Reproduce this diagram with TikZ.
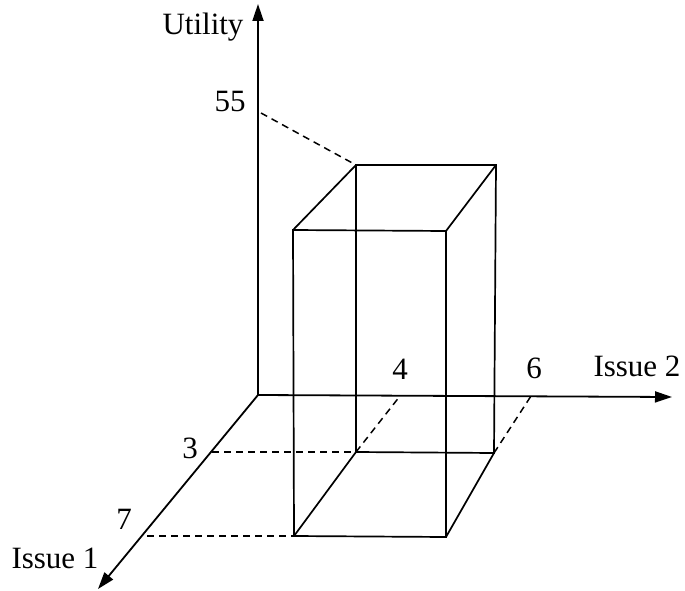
\documentclass[tikz,border=0pt]{standalone}
\usepackage{fontspec}
\setmainfont{Liberation Serif}
\usetikzlibrary{arrows.meta, positioning}

\begin{document}
\begin{tikzpicture}[
    x=1pt, y=-1pt,
    axis/.style={
        -{Triangle[length=17pt,width=11pt]},
        line width=1.8pt
    },
    edge/.style={
        line width=1.7pt
    },
    guide/.style={
        line width=1.5pt,
        dash pattern=on 7pt off 5pt
    },
    lbl/.style={
        font=\fontsize{31}{34}\selectfont,
        inner sep=0pt,
        anchor=base
    }
]
\useasboundingbox (0,0) rectangle (685,591);

% Axes
\coordinate (o)     at (258,395);
\coordinate (ytip)  at (258,4);
\coordinate (x2tip) at (672,397);
\coordinate (x1tip) at (98,589);

\draw[axis] (o) -- (ytip);
\draw[axis] (o) -- (x2tip);
\draw[axis] (o) -- (x1tip);

% Box corners (front face, back face)
\coordinate (ftl) at (293,230);
\coordinate (ftr) at (446,231);
\coordinate (fbl) at (294,536);
\coordinate (fbr) at (446,537);
\coordinate (btl) at (356,165);
\coordinate (btr) at (496,165);
\coordinate (bbl) at (356,452);
\coordinate (bbr) at (494,453);

% Box
\draw[edge] (ftl) -- (ftr) -- (fbr) -- (fbl) -- cycle;
\draw[edge] (btl) -- (btr) -- (bbr) -- (bbl) -- cycle;
\draw[edge] (ftl) -- (btl);
\draw[edge] (ftr) -- (btr);
\draw[edge] (fbl) -- (bbl);
\draw[edge] (fbr) -- (bbr);

% Labels
\node[lbl] (utl)  at (203,35)  {Utility};
\node[lbl] (i2l)  at (637,376) {Issue 2};
\node[lbl] (i1l)  at (55,568)  {Issue 1};
\node[lbl] (v55)  at (230,112) {55};
\node[lbl] (v3)   at (190,458) {3};
\node[lbl] (v7)   at (124,529) {7};
\node[lbl] (v4)   at (400,379) {4};
\node[lbl] (v6)   at (534,378) {6};

% Guide lines
\coordinate (u55) at (261,113);
\coordinate (i3)  at (212,452);
\coordinate (i7)  at (147,536);
\coordinate (j4)  at (400,396);
\coordinate (j6)  at (531,396);

\draw[guide] (u55) -- (btl);
\draw[guide] (i3)  -- (bbl);
\draw[guide] (i7)  -- (fbl);
\draw[guide] (bbl) -- (j4);
\draw[guide] (bbr) -- (j6);

\end{tikzpicture}
\end{document}
